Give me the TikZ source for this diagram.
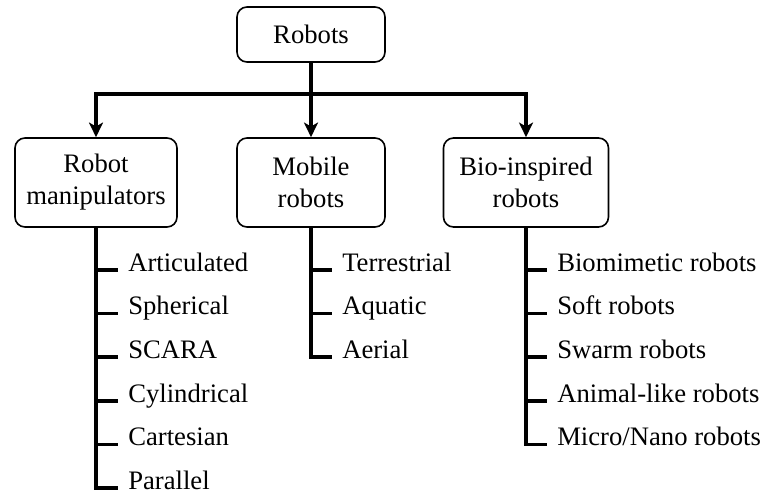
\documentclass[tikz,border=0pt]{standalone}
\usepackage{fontspec}
\setmainfont{Liberation Serif}
\usetikzlibrary{arrows.meta, positioning}

\begin{document}
\begin{tikzpicture}[x=0.75pt, y=-0.75pt,
	every node/.style={font=\fontsize{20}{24}\selectfont},
	box/.style={draw, line width=1.2pt, rounded corners=7.5pt, align=center, minimum height=66.75pt},
	item/.style={anchor=west, inner xsep=0pt, inner ysep=0pt, text height=0.2em, text depth=0pt},
	conn/.style={line width=2.6pt, line join=miter},
	>={Stealth[length=11pt, width=10.5pt, inset=3pt]}]

	\useasboundingbox (0,0) rectangle (762,497);

	%boxes
	\node [box, minimum width=111pt, minimum height=41.25pt] (robots) at (311,34.5) {Robots};
	\node [box, minimum width=121.5pt] (manip) at (96,182.5) {Robot\\manipulators};
	\node [box, minimum width=111pt] (mobile) at (311,182.5) {Mobile\\robots};
	\node [box, minimum width=123.75pt] (bio) at (526,182.5) {Bio-inspired\\robots};

%arrows
	\coordinate (split) at (311,94);
	\draw [conn] (robots) -- (split);
	\draw [conn, ->] (split) -| (manip);
	\draw [conn, ->] (split) -- (mobile);
	\draw [conn, ->] (split) -| (bio);

%lists
	\foreach \name [count=\i] in {Articulated, Spherical, SCARA, Cylindrical, Cartesian, Parallel}
		\node [item] (m\i) at (128,{270+43.6*(\i-1)}) {\name};
	\foreach \name [count=\i] in {Terrestrial, Aquatic, Aerial}
		\node [item] (v\i) at (342,{270+43.6*(\i-1)}) {\name};
	\foreach \name [count=\i] in {Biomimetic robots, Soft robots, Swarm robots, Animal-like robots, Micro/Nano robots}
		\node [item] (b\i) at (557,{270+43.6*(\i-1)}) {\name};

	\draw [conn, shorten >=7.5pt] (manip) |- (m6.west);
	\foreach \i in {1,...,5}
		\draw [conn, shorten >=7.5pt] (manip.south |- m\i.west) -- (m\i.west);

	\draw [conn, shorten >=7.5pt] (mobile) |- (v3.west);
	\foreach \i in {1,2}
		\draw [conn, shorten >=7.5pt] (mobile.south |- v\i.west) -- (v\i.west);

	\draw [conn, shorten >=7.5pt] (bio) |- (b5.west);
	\foreach \i in {1,...,4}
		\draw [conn, shorten >=7.5pt] (bio.south |- b\i.west) -- (b\i.west);

\end{tikzpicture}
\end{document}
